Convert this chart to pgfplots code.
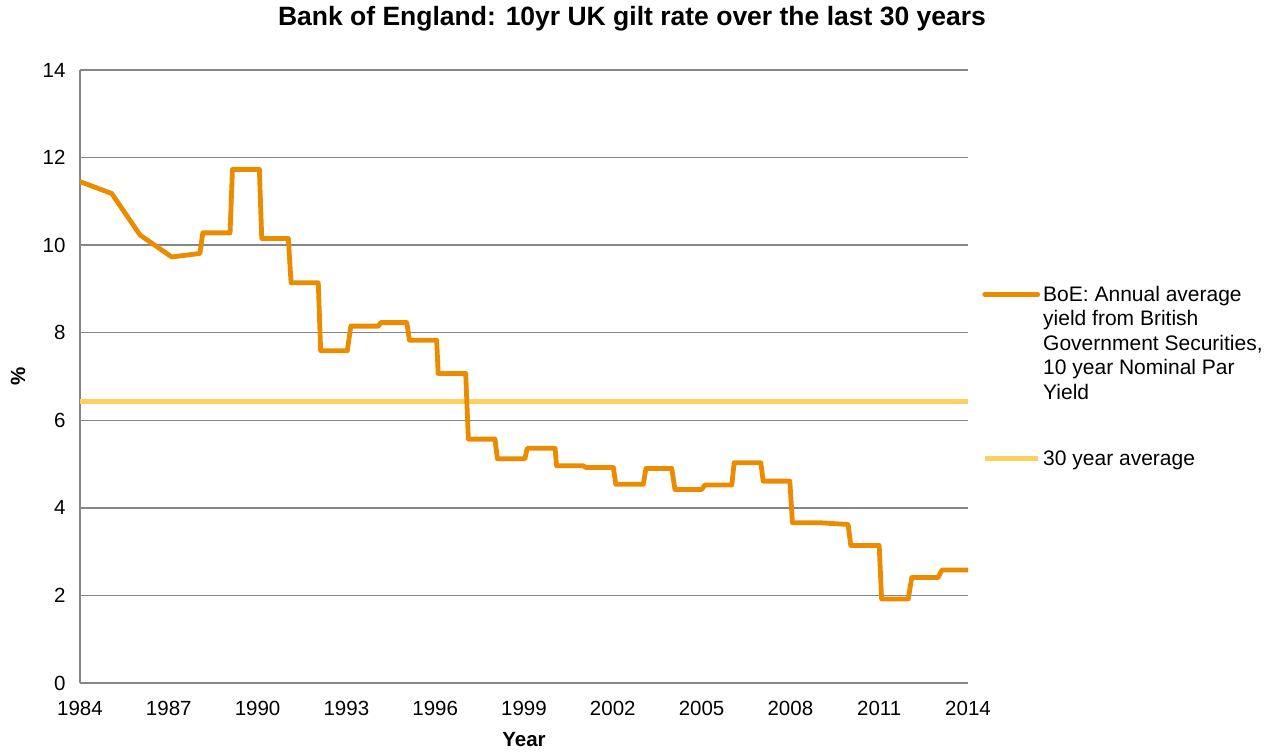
\documentclass[border=0pt]{standalone}
\usepackage{pgfplots}
\pgfplotsset{compat=1.18}
\usepackage{fontspec}
\setmainfont{Liberation Sans}
\definecolor{boe}{HTML}{EB8C00}
\definecolor{avg}{HTML}{FFCF5F}
\definecolor{gridc}{HTML}{868686}

\begin{document}
\begin{tikzpicture}
\begin{axis}[
    scale only axis, width=888pt, height=613pt,
    xmin=1984, xmax=2014, ymin=0, ymax=14,
    xtick={1984,1987,...,2014}, ytick={0,2,...,14},
    axis lines=left,
    axis line style={-, gridc, line width=1.5pt},
    major tick length=0pt,
    ymajorgrids, grid style={gridc, line width=1.3pt},
    /pgf/number format/1000 sep={},
    /pgf/number format/assume math mode=true,
    tick label style={font=\fontsize{20.5}{24}\selectfont},
    xticklabel style={yshift=-15pt},
    yticklabel style={xshift=-11pt},
    title={Bank of England: 10yr UK gilt rate over the last 30 years},
    title style={at={(axis description cs:0.6216,1.0636)}, anchor=base,
        font=\bfseries\fontsize{26.5}{30}\selectfont},
    xlabel={Year},
    xlabel style={at={(axis description cs:0.5,-0.093)}, anchor=center,
        font=\bfseries\fontsize{20.5}{24}\selectfont},
    ylabel={\%},
    ylabel style={at={(axis description cs:-0.0698,0.5)}, anchor=center,
        font=\bfseries\fontsize{20.5}{24}\selectfont},
    reverse legend,
    legend style={at={(axis description cs:1.0158,0.6475)}, anchor=north west,
        draw=none, fill=none, inner sep=0pt, row sep=148pt,
        font=\fontsize{21}{24.5}\selectfont,
        cells={anchor=base west},
        nodes={inner sep=0pt, inner xsep=3pt}},
    legend image code/.code={\draw[#1] (0pt,7pt) -- (53pt,7pt);},
]
\addplot[avg, line width=5pt] coordinates {(1984,6.42) (2014,6.42)};
\addlegendentry{30 year average}
\addplot[boe, line width=4.8pt, line join=round, line cap=round] coordinates {
(1984,11.45) (1985.07,11.18) (1986.03,10.23) (1987.1,9.73) (1988.05,9.81)
(1988.15,10.28) (1989.07,10.28) (1989.15,11.73) (1990.06,11.73) (1990.14,10.15)
(1991.04,10.15) (1991.13,9.14) (1992.05,9.14) (1992.13,7.59) (1993.03,7.59)
(1993.15,8.15) (1994.08,8.15) (1994.16,8.23) (1995.04,8.23) (1995.13,7.83)
(1996.05,7.83) (1996.1,7.07) (1997.03,7.07) (1997.12,5.57) (1998.02,5.57)
(1998.1,5.12) (1999.03,5.12) (1999.11,5.36) (2000.05,5.36) (2000.1,4.96)
(2001.0,4.96) (2001.1,4.92) (2002.02,4.92) (2002.1,4.54) (2003.03,4.54)
(2003.12,4.90) (2003.99,4.90) (2004.1,4.42) (2005.0,4.42) (2005.11,4.52)
(2006.02,4.52) (2006.1,5.03) (2007.0,5.03) (2007.08,4.61) (2007.98,4.61)
(2008.07,3.66) (2009.0,3.66) (2009.95,3.62) (2010.04,3.14) (2011.0,3.14)
(2011.08,1.92) (2011.98,1.92) (2012.1,2.41) (2012.99,2.41) (2013.12,2.58)
(2014,2.58)};
\addlegendentry{\parbox[t]{240pt}{BoE: Annual average\\yield from British\\Government Securities,\\10 year Nominal Par\\Yield}}
\coordinate (o) at (rel axis cs:0,0);
\end{axis}
\pgfresetboundingbox
\path[use as bounding box] (o) ++(-80pt,-71pt) rectangle ++(1276pt,754pt);
\end{tikzpicture}
\end{document}
